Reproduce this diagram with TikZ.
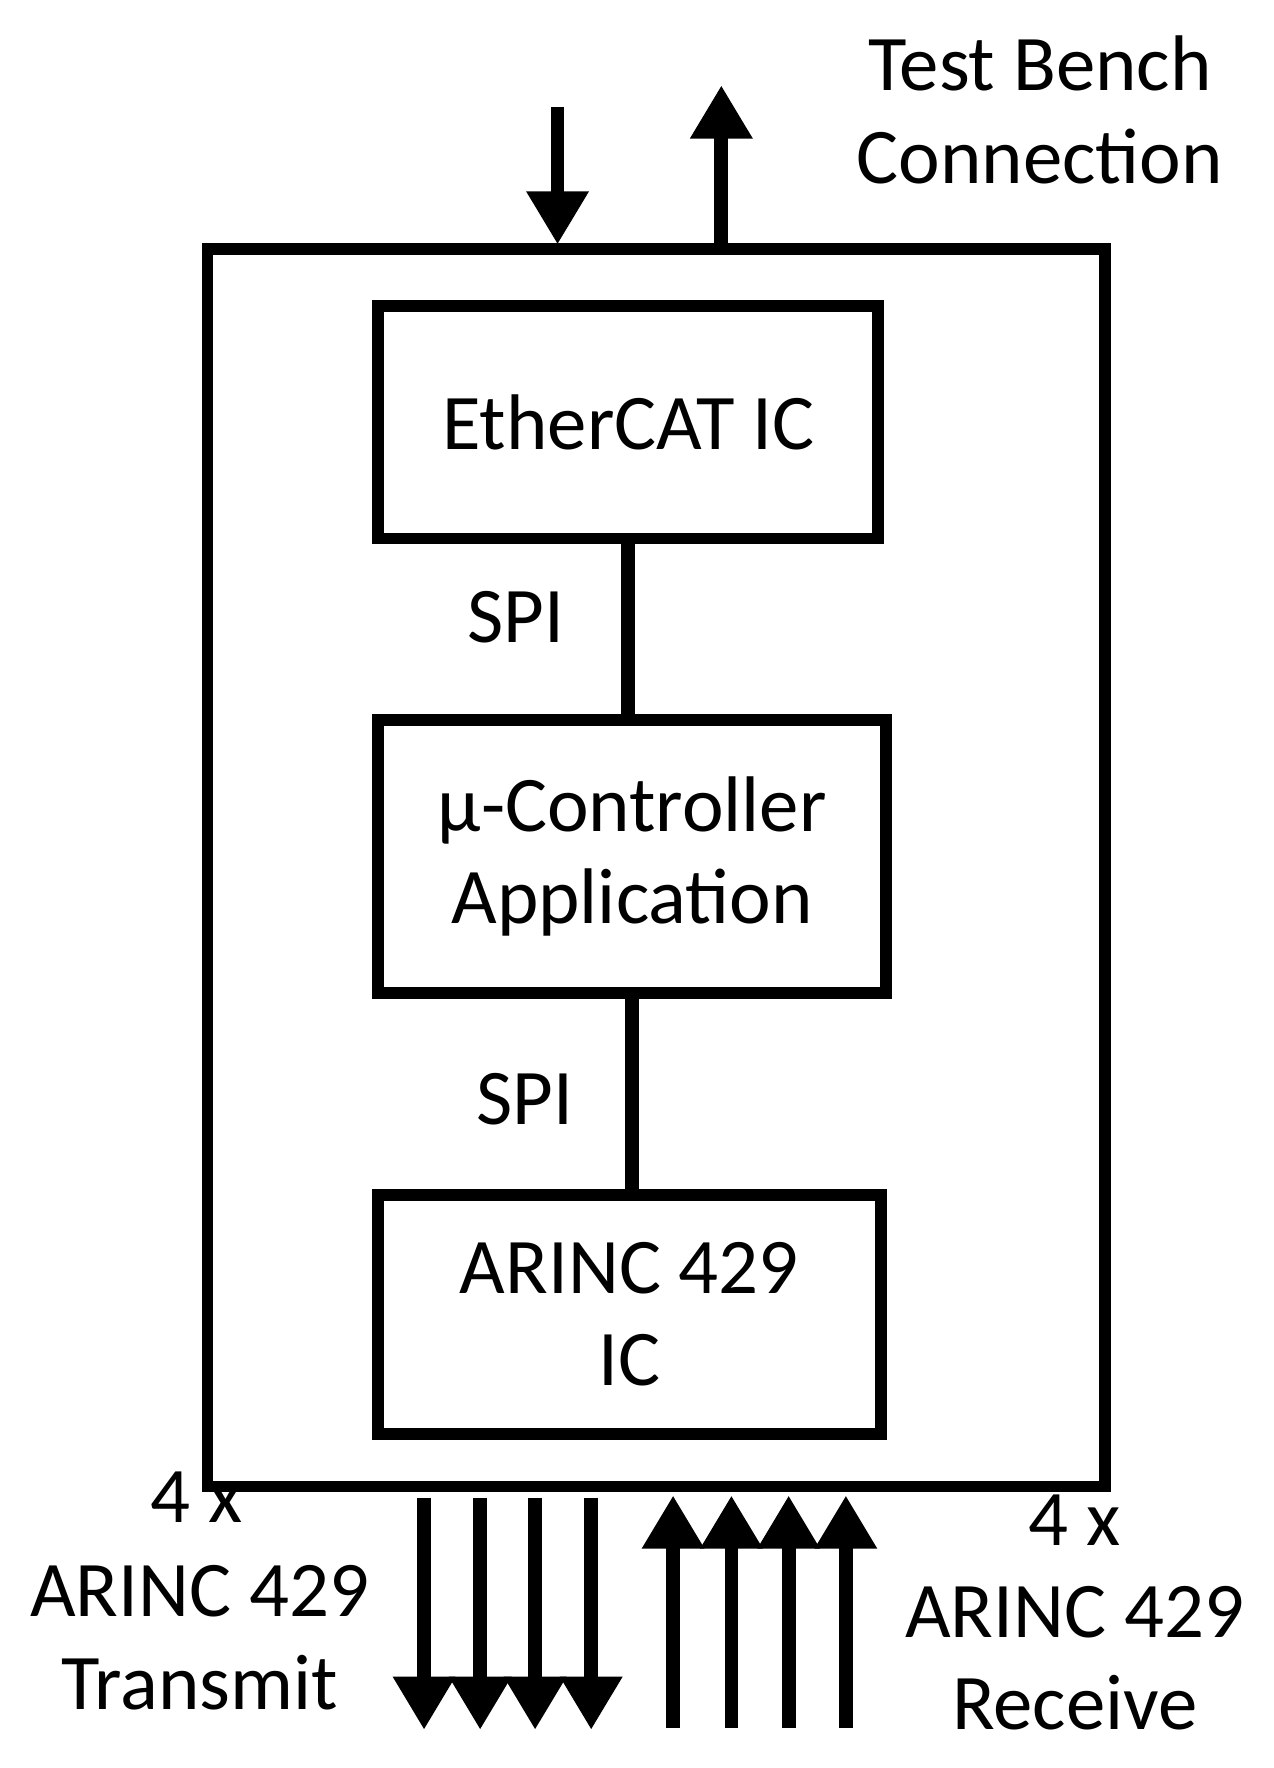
\documentclass[tikz,border=0pt]{standalone}
\usepackage{fontspec}
\setmainfont{Carlito}
\usetikzlibrary{arrows.meta}
\begin{document}
\begin{tikzpicture}[x=0.02cm,y=-0.02cm,
  box/.style={draw,line width=6pt,inner sep=0pt,align=center,font=\fontsize{40}{47}\selectfont},
  lbl/.style={align=center,font=\fontsize{40}{47}\selectfont,inner sep=0pt},
  conn/.style={line width=7pt},
  arr/.style={line width=7pt,-{Triangle[length=0.95cm,width=1.05cm]}}]
\useasboundingbox (0,0) rectangle (1135,1576);
\node[box,minimum width=800*0.02cm,minimum height=1103*0.02cm] (outer) at (585,773.5) {};
\node[box,minimum width=446*0.02cm,minimum height=207*0.02cm] (eth) at (560,376.5) {EtherCAT IC};
\node[box,minimum width=453*0.02cm,minimum height=243*0.02cm] (mc) at (563.5,763.5) {μ-Controller\\Application};
\node[box,minimum width=448*0.02cm,minimum height=213*0.02cm] (ar) at (561,1171.5) {ARINC 429\\IC};
\draw[conn] (eth.south) -- (eth.south|-mc.north);
\draw[conn] (mc.south) -- (mc.south|-ar.north);
\node[lbl] (spi1) at (460,550) {SPI};
\node[lbl] (spi2) at (468,980) {SPI};
\coordinate (tin) at (497,95); \coordinate (tinE) at (497,218);
\coordinate (tout) at (643,218); \coordinate (toutE) at (643,76);
\draw[arr] (tin) -- (tinE);
\draw[arr] (tout) -- (toutE);
\node[lbl] (tb) at (927,98) {Test Bench\\Connection};
\foreach \x [count=\i] in {378,428,477,527}{
  \coordinate (tx\i) at (\x,1335); \coordinate (txE\i) at (\x,1542);
  \draw[arr] (tx\i) -- (txE\i);}
\foreach \x [count=\i] in {600,652,703,754}{
  \coordinate (rx\i) at (\x,1540); \coordinate (rxE\i) at (\x,1333);
  \draw[arr] (rx\i) -- (rxE\i);}
\node[lbl] (tx4) at (175,1335) {4 x};
\node[lbl] (txl) at (178,1460) {ARINC 429\\Transmit};
\node[lbl] (rx4) at (958,1355) {4 x};
\node[lbl] (rxl) at (958,1478) {ARINC 429\\Receive};
\end{tikzpicture}
\end{document}
